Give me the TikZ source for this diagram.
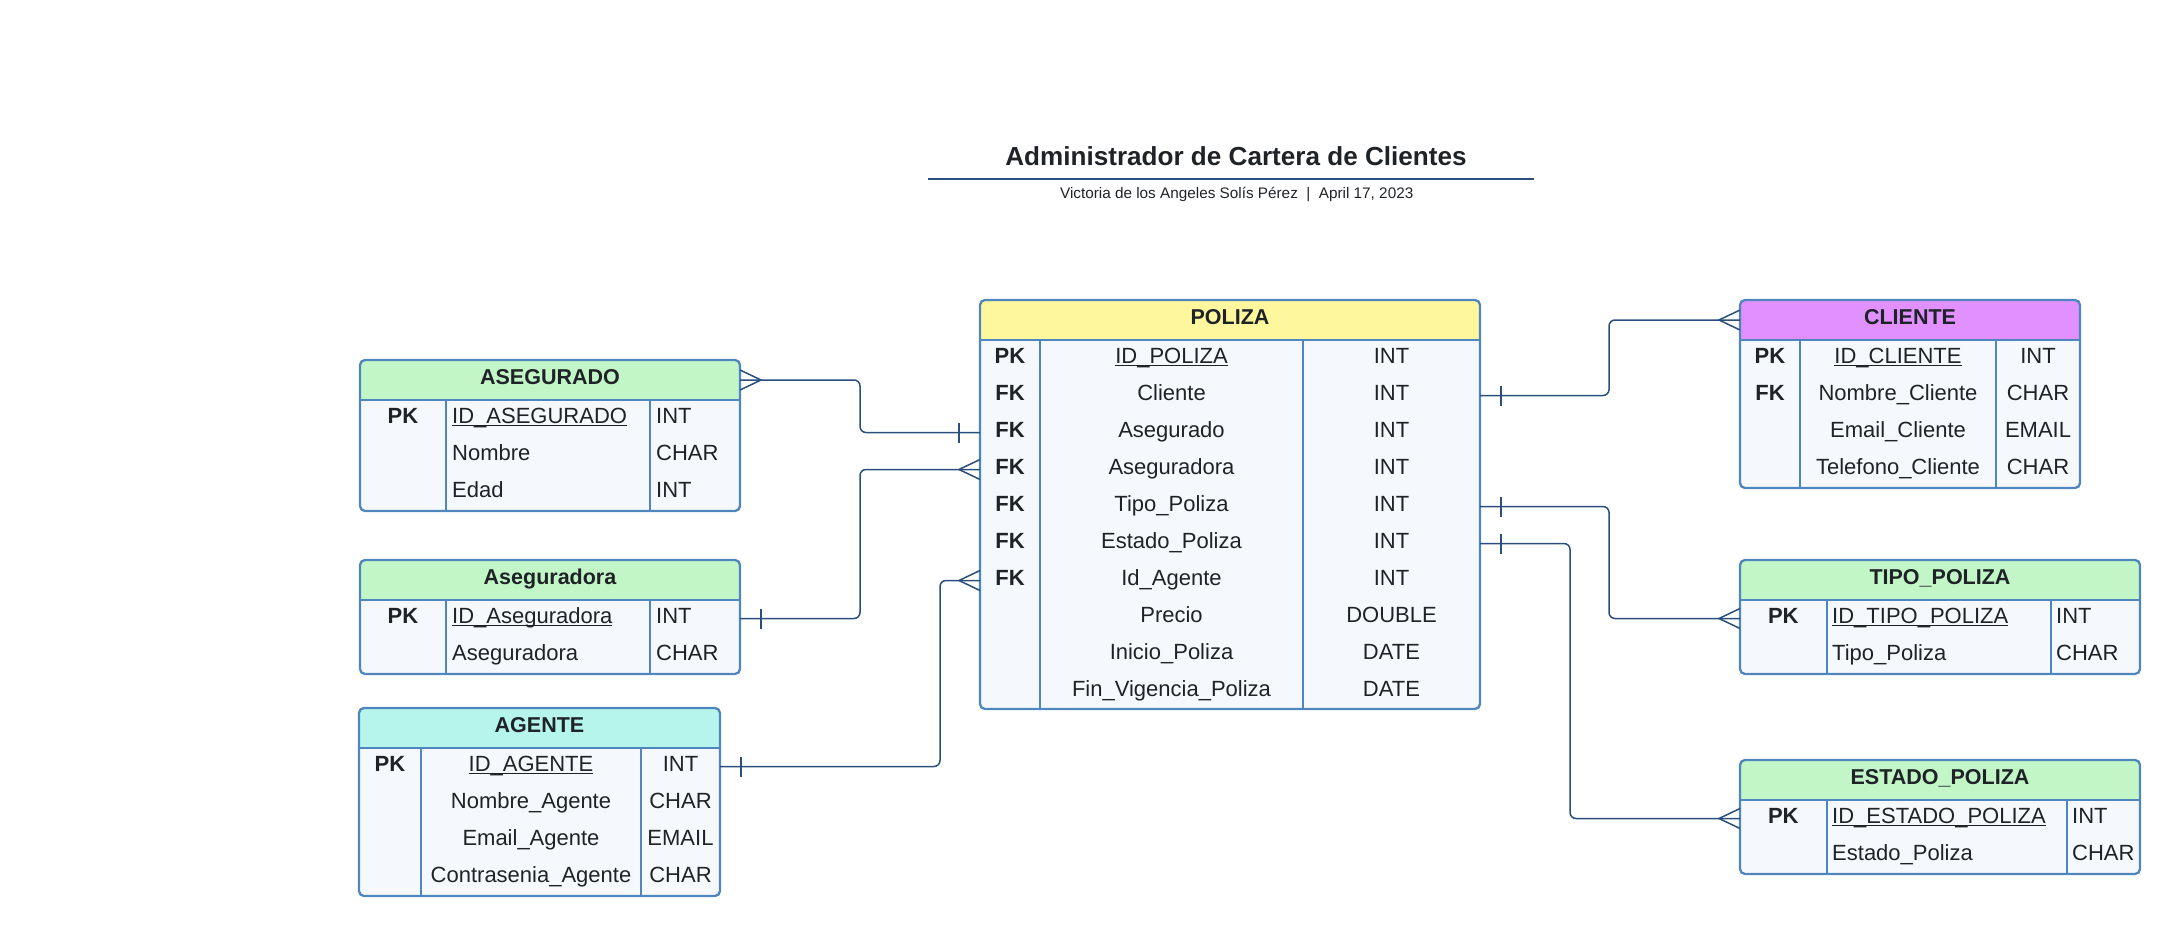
\documentclass[tikz,border=0pt]{standalone}
\usepackage{fontspec}
\setmainfont{Liberation Sans}
\definecolor{tblborder}{HTML}{5086BE}
\definecolor{tblbody}{HTML}{F5F9FE}
\definecolor{relline}{HTML}{2A4F7C}
\definecolor{inktext}{HTML}{1F2328}
\definecolor{headgreen}{HTML}{C3F6C7}
\definecolor{headyellow}{HTML}{FFF79E}
\definecolor{headpurple}{HTML}{E190FF}
\definecolor{headcyan}{HTML}{B6F5EB}
\newcommand\pkname[1]{\underline{\smash{#1}}}

\begin{document}
\begin{tikzpicture}[x=1pt,y=-1pt,
  erbox/.style={draw=tblborder, line width=2.3pt, rounded corners=5pt, fill=tblbody,
    anchor=north west, inner sep=0pt, outer sep=0pt,
    path picture={\fill[#1, sharp corners] (path picture bounding box.north west)
      rectangle ([yshift=-40pt]path picture bounding box.north east);}},
  colrule/.style={draw=tblborder, line width=2.3pt},
  headtxt/.style={font=\fontsize{21.5}{26}\selectfont\bfseries, text=inktext, anchor=base, inner sep=0pt},
  celltxt/.style={font=\fontsize{22}{26}\selectfont, text=inktext, anchor=base, inner sep=0pt},
  keytxt/.style={celltxt, font=\fontsize{22}{26}\selectfont\bfseries},
  lefttxt/.style={celltxt, anchor=base west},
  rel/.style={draw=relline, line width=1.5pt, rounded corners=6pt},
  relend/.style={draw=relline, line width=1.5pt}]

\useasboundingbox (0,0) rectangle (2180,936);

% title
\node[font=\fontsize{26.1}{30}\selectfont\bfseries, text=inktext, anchor=base] (title) at (1236,166) {Administrador de Cartera de Clientes};
\draw[draw=relline, line width=2pt] (928,179) -- (1534,179);
\node[font=\fontsize{15.3}{18}\selectfont, text=inktext, anchor=base] (subtitle) at (1236.7,199) {Victoria de los Angeles Solís Pérez~~|~~April 17, 2023};

% POLIZA
\node[erbox=headyellow, minimum width=500pt, minimum height=409pt] (poliza) at (980,300) {};
\draw[colrule] ([yshift=-40pt]poliza.north west) -- ([yshift=-40pt]poliza.north east)
  ([xshift=60pt,yshift=-40pt]poliza.north west) -- ([xshift=60pt]poliza.south west)
  ([xshift=323pt,yshift=-40pt]poliza.north west) -- ([xshift=323pt]poliza.south west);
\node[headtxt] (pol-h) at (1230,324.3) {POLIZA};
\node[keytxt] (pol-k1) at (1010,363.5) {PK};
\node[keytxt] (pol-k2) at (1010,400.5) {FK};
\node[keytxt] (pol-k3) at (1010,437.5) {FK};
\node[keytxt] (pol-k4) at (1010,474.5) {FK};
\node[keytxt] (pol-k5) at (1010,511.5) {FK};
\node[keytxt] (pol-k6) at (1010,548.5) {FK};
\node[keytxt] (pol-k7) at (1010,585.5) {FK};
\node[celltxt] (pol-n1) at (1171.5,363.5) {\pkname{ID\_POLIZA}};
\node[celltxt] (pol-n2) at (1171.5,400.5) {Cliente};
\node[celltxt] (pol-n3) at (1171.5,437.5) {Asegurado};
\node[celltxt] (pol-n4) at (1171.5,474.5) {Aseguradora};
\node[celltxt] (pol-n5) at (1171.5,511.5) {Tipo\_Poliza};
\node[celltxt] (pol-n6) at (1171.5,548.5) {Estado\_Poliza};
\node[celltxt] (pol-n7) at (1171.5,585.5) {Id\_Agente};
\node[celltxt] (pol-n8) at (1171.5,622.5) {Precio};
\node[celltxt] (pol-n9) at (1171.5,659.5) {Inicio\_Poliza};
\node[celltxt] (pol-n10) at (1171.5,696.5) {Fin\_Vigencia\_Poliza};
\node[celltxt] (pol-t1) at (1391.5,363.5) {INT};
\node[celltxt] (pol-t2) at (1391.5,400.5) {INT};
\node[celltxt] (pol-t3) at (1391.5,437.5) {INT};
\node[celltxt] (pol-t4) at (1391.5,474.5) {INT};
\node[celltxt] (pol-t5) at (1391.5,511.5) {INT};
\node[celltxt] (pol-t6) at (1391.5,548.5) {INT};
\node[celltxt] (pol-t7) at (1391.5,585.5) {INT};
\node[celltxt] (pol-t8) at (1391.5,622.5) {DOUBLE};
\node[celltxt] (pol-t9) at (1391.5,659.5) {DATE};
\node[celltxt] (pol-t10) at (1391.5,696.5) {DATE};

% ASEGURADO
\node[erbox=headgreen, minimum width=380pt, minimum height=151pt] (asegurado) at (360,360) {};
\draw[colrule] ([yshift=-40pt]asegurado.north west) -- ([yshift=-40pt]asegurado.north east)
  ([xshift=86pt,yshift=-40pt]asegurado.north west) -- ([xshift=86pt]asegurado.south west)
  ([xshift=290pt,yshift=-40pt]asegurado.north west) -- ([xshift=290pt]asegurado.south west);
\node[headtxt] (asd-h) at (550,384.3) {ASEGURADO};
\node[keytxt] (asd-k1) at (403,423.5) {PK};
\node[lefttxt] (asd-n1) at (452,423.5) {\pkname{ID\_ASEGURADO}};
\node[lefttxt] (asd-n2) at (452,460.5) {Nombre};
\node[lefttxt] (asd-n3) at (452,497.5) {Edad};
\node[lefttxt] (asd-t1) at (656,423.5) {INT};
\node[lefttxt] (asd-t2) at (656,460.5) {CHAR};
\node[lefttxt] (asd-t3) at (656,497.5) {INT};

% Aseguradora
\node[erbox=headgreen, minimum width=380pt, minimum height=114pt] (aseguradora) at (360,560) {};
\draw[colrule] ([yshift=-40pt]aseguradora.north west) -- ([yshift=-40pt]aseguradora.north east)
  ([xshift=86pt,yshift=-40pt]aseguradora.north west) -- ([xshift=86pt]aseguradora.south west)
  ([xshift=290pt,yshift=-40pt]aseguradora.north west) -- ([xshift=290pt]aseguradora.south west);
\node[headtxt] (asr-h) at (550,584.3) {Aseguradora};
\node[keytxt] (asr-k1) at (403,623.5) {PK};
\node[lefttxt] (asr-n1) at (452,623.5) {\pkname{ID\_Aseguradora}};
\node[lefttxt] (asr-n2) at (452,660.5) {Aseguradora};
\node[lefttxt] (asr-t1) at (656,623.5) {INT};
\node[lefttxt] (asr-t2) at (656,660.5) {CHAR};

% AGENTE
\node[erbox=headcyan, minimum width=361pt, minimum height=188pt] (agente) at (359,708) {};
\draw[colrule] ([yshift=-40pt]agente.north west) -- ([yshift=-40pt]agente.north east)
  ([xshift=62pt,yshift=-40pt]agente.north west) -- ([xshift=62pt]agente.south west)
  ([xshift=282pt,yshift=-40pt]agente.north west) -- ([xshift=282pt]agente.south west);
\node[headtxt] (age-h) at (539.5,732.3) {AGENTE};
\node[keytxt] (age-k1) at (390,771.5) {PK};
\node[celltxt] (age-n1) at (531,771.5) {\pkname{ID\_AGENTE}};
\node[celltxt] (age-n2) at (531,808.5) {Nombre\_Agente};
\node[celltxt] (age-n3) at (531,845.5) {Email\_Agente};
\node[celltxt] (age-n4) at (531,882.5) {Contrasenia\_Agente};
\node[celltxt] (age-t1) at (680.5,771.5) {INT};
\node[celltxt] (age-t2) at (680.5,808.5) {CHAR};
\node[celltxt] (age-t3) at (680.5,845.5) {EMAIL};
\node[celltxt] (age-t4) at (680.5,882.5) {CHAR};

% CLIENTE
\node[erbox=headpurple, minimum width=340pt, minimum height=188pt] (cliente) at (1740,300) {};
\draw[colrule] ([yshift=-40pt]cliente.north west) -- ([yshift=-40pt]cliente.north east)
  ([xshift=60pt,yshift=-40pt]cliente.north west) -- ([xshift=60pt]cliente.south west)
  ([xshift=256pt,yshift=-40pt]cliente.north west) -- ([xshift=256pt]cliente.south west);
\node[headtxt] (cli-h) at (1910,324.3) {CLIENTE};
\node[keytxt] (cli-k1) at (1770,363.5) {PK};
\node[keytxt] (cli-k2) at (1770,400.5) {FK};
\node[celltxt] (cli-n1) at (1898,363.5) {\pkname{ID\_CLIENTE}};
\node[celltxt] (cli-n2) at (1898,400.5) {Nombre\_Cliente};
\node[celltxt] (cli-n3) at (1898,437.5) {Email\_Cliente};
\node[celltxt] (cli-n4) at (1898,474.5) {Telefono\_Cliente};
\node[celltxt] (cli-t1) at (2038,363.5) {INT};
\node[celltxt] (cli-t2) at (2038,400.5) {CHAR};
\node[celltxt] (cli-t3) at (2038,437.5) {EMAIL};
\node[celltxt] (cli-t4) at (2038,474.5) {CHAR};

% TIPO_POLIZA
\node[erbox=headgreen, minimum width=400pt, minimum height=114pt] (tipopol) at (1740,560) {};
\draw[colrule] ([yshift=-40pt]tipopol.north west) -- ([yshift=-40pt]tipopol.north east)
  ([xshift=86.7pt,yshift=-40pt]tipopol.north west) -- ([xshift=86.7pt]tipopol.south west)
  ([xshift=310.7pt,yshift=-40pt]tipopol.north west) -- ([xshift=310.7pt]tipopol.south west);
\node[headtxt] (tip-h) at (1940,584.3) {TIPO\_POLIZA};
\node[keytxt] (tip-k1) at (1783.3,623.5) {PK};
\node[lefttxt] (tip-n1) at (1832,623.5) {\pkname{ID\_TIPO\_POLIZA}};
\node[lefttxt] (tip-n2) at (1832,660.5) {Tipo\_Poliza};
\node[lefttxt] (tip-t1) at (2056,623.5) {INT};
\node[lefttxt] (tip-t2) at (2056,660.5) {CHAR};

% ESTADO_POLIZA
\node[erbox=headgreen, minimum width=400pt, minimum height=114pt] (estpol) at (1740,760) {};
\draw[colrule] ([yshift=-40pt]estpol.north west) -- ([yshift=-40pt]estpol.north east)
  ([xshift=86.7pt,yshift=-40pt]estpol.north west) -- ([xshift=86.7pt]estpol.south west)
  ([xshift=326.7pt,yshift=-40pt]estpol.north west) -- ([xshift=326.7pt]estpol.south west);
\node[headtxt] (est-h) at (1940,784.3) {ESTADO\_POLIZA};
\node[keytxt] (est-k1) at (1783.3,823.5) {PK};
\node[lefttxt] (est-n1) at (1832,823.5) {\pkname{ID\_ESTADO\_POLIZA}};
\node[lefttxt] (est-n2) at (1832,860.5) {Estado\_Poliza};
\node[lefttxt] (est-t1) at (2072,823.5) {INT};
\node[lefttxt] (est-t2) at (2072,860.5) {CHAR};

% ports
\coordinate (pol-cli) at ([yshift=-95.5pt]poliza.north east);
\coordinate (pol-tip) at ([yshift=-206.5pt]poliza.north east);
\coordinate (pol-est) at ([yshift=-243.5pt]poliza.north east);
\coordinate (pol-asd) at ([yshift=-132.5pt]poliza.north west);
\coordinate (pol-asr) at ([yshift=-169.5pt]poliza.north west);
\coordinate (pol-age) at ([yshift=-280.5pt]poliza.north west);
\coordinate (asd-p) at ([yshift=-20pt]asegurado.north east);
\coordinate (asr-p) at ([yshift=-58.5pt]aseguradora.north east);
\coordinate (age-p) at ([yshift=-58.5pt]agente.north east);
\coordinate (cli-p) at ([yshift=-20pt]cliente.north west);
\coordinate (tip-p) at ([yshift=-58.5pt]tipopol.north west);
\coordinate (est-p) at ([yshift=-58.5pt]estpol.north west);

% relations
\draw[rel] (asd-p) -- ++(120,0) |- (pol-asd);
\draw[rel] (asr-p) -- ++(120,0) |- (pol-asr);
\draw[rel] (age-p) -- ++(220,0) |- (pol-age);
\draw[rel] (pol-cli) -- ++(129,0) |- (cli-p);
\draw[rel] (pol-tip) -- ++(129,0) |- (tip-p);
\draw[rel] (pol-est) -- ++(90,0) |- (est-p);

% crow's feet
\draw[relend] ([yshift=10pt]asd-p) -- ([xshift=21pt]asd-p) -- ([yshift=-10pt]asd-p);
\draw[relend] ([yshift=10pt]pol-asr) -- ([xshift=-21pt]pol-asr) -- ([yshift=-10pt]pol-asr);
\draw[relend] ([yshift=10pt]pol-age) -- ([xshift=-21pt]pol-age) -- ([yshift=-10pt]pol-age);
\draw[relend] ([yshift=10pt]cli-p) -- ([xshift=-21pt]cli-p) -- ([yshift=-10pt]cli-p);
\draw[relend] ([yshift=10pt]tip-p) -- ([xshift=-21pt]tip-p) -- ([yshift=-10pt]tip-p);
\draw[relend] ([yshift=10pt]est-p) -- ([xshift=-21pt]est-p) -- ([yshift=-10pt]est-p);

% bars
\draw[relend] ([xshift=-21pt,yshift=10pt]pol-asd) -- ([xshift=-21pt,yshift=-10pt]pol-asd);
\draw[relend] ([xshift=21pt,yshift=10pt]asr-p) -- ([xshift=21pt,yshift=-10pt]asr-p);
\draw[relend] ([xshift=21pt,yshift=10pt]age-p) -- ([xshift=21pt,yshift=-10pt]age-p);
\draw[relend] ([xshift=21pt,yshift=10pt]pol-cli) -- ([xshift=21pt,yshift=-10pt]pol-cli);
\draw[relend] ([xshift=21pt,yshift=10pt]pol-tip) -- ([xshift=21pt,yshift=-10pt]pol-tip);
\draw[relend] ([xshift=21pt,yshift=10pt]pol-est) -- ([xshift=21pt,yshift=-10pt]pol-est);
\end{tikzpicture}
\end{document}
